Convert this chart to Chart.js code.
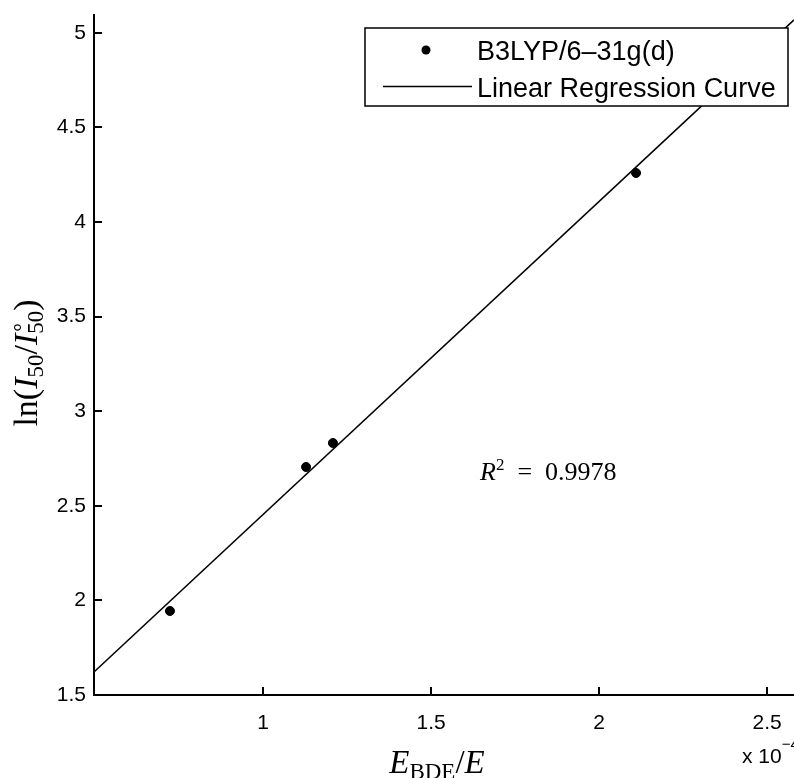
<!DOCTYPE html>
<html>
<head>
<meta charset="utf-8">
<script src="https://cdn.jsdelivr.net/npm/chart.js@4"></script>
<style>
html, body { margin: 0; padding: 0; background: #fff; }
#wrap { width: 794px; height: 778px; }
</style>
</head>
<body>
<div id="wrap"><canvas id="fitChart" width="794" height="778"></canvas></div>
<script>
// values in units of 1e-4 on x, as shown on the axis
const xValues = [0.723, 1.128, 1.208, 2.110];
const yValues = [1.944, 2.705, 2.832, 4.259];
const fitX = [0.497, 2.58];
const fitY = [1.622, 5.068];
const xTicks = [1, 1.5, 2, 2.5];
const yTicks = [1.5, 2, 2.5, 3, 3.5, 4, 4.5, 5];
const seriesLabels = ['B3LYP/6\u201331g(d)', 'Linear Regression Curve'];
const r2Text = '0.9978';

const SANS = '"Liberation Sans", Arial, sans-serif';
const SERIF = '"Liberation Serif", "Times New Roman", serif';

// draws a list of text pieces; stack:true puts a piece at the same x as the previous one
function drawRuns(ctx, runs, x, y, align) {
    let w = 0, cur = 0, lastStart = 0;
    const pos = [];
    runs.forEach(r => {
        ctx.font = r.font;
        const rw = ctx.measureText(r.t).width;
        const start = r.stack ? lastStart : cur;
        pos.push(start);
        lastStart = start;
        cur = Math.max(cur, start + rw);
        w = cur;
    });
    const x0 = align === 'center' ? x - w / 2 : x;
    runs.forEach((r, i) => {
        ctx.font = r.font;
        ctx.fillText(r.t, x0 + pos[i], y + (r.dy || 0));
    });
}

const extras = {
    id: 'extras',
    afterDraw(chart) {
        const ctx = chart.ctx;
        const xs = chart.scales.x, ys = chart.scales.y;
        const area = chart.chartArea;
        ctx.save();

        // inward tick marks (filled rectangles)
        ctx.fillStyle = '#000';
        xTicks.forEach(v => {
            const px = Math.round(xs.getPixelForValue(v));
            ctx.fillRect(px - 1, area.bottom - 8, 2, 8);
        });
        yTicks.forEach(v => {
            const py = Math.round(ys.getPixelForValue(v));
            ctx.fillRect(area.left, py - 1, 8, 2);
        });

        // legend box
        const bx = 365, by = 28, bw = 423, bh = 78;
        ctx.strokeStyle = '#000';
        ctx.fillStyle = '#fff';
        ctx.fillRect(bx, by, bw, bh);
        ctx.lineWidth = 1.5;
        ctx.strokeRect(bx, by, bw, bh);
        ctx.fillStyle = '#000';
        ctx.beginPath();
        ctx.arc(426, 50, 4.5, 0, Math.PI * 2);
        ctx.fill();
        ctx.beginPath();
        ctx.moveTo(383, 86.5);
        ctx.lineTo(472, 86.5);
        ctx.stroke();
        ctx.font = '27px ' + SANS;
        ctx.textBaseline = 'alphabetic';
        ctx.textAlign = 'left';
        ctx.fillText(chart.data.datasets[0].label, 477, 60);
        ctx.fillText(chart.data.datasets[1].label, 477, 97);

        // R^2 annotation
        drawRuns(ctx, [
            { t: 'R', font: 'italic 26px ' + SERIF },
            { t: '2', font: '17px ' + SERIF, dy: -10 },
            { t: '\u2002=\u2002', font: '26px ' + SERIF },
            { t: r2Text, font: '26px ' + SERIF }
        ], 480, 480, 'left');

        // x axis title
        drawRuns(ctx, [
            { t: 'E', font: 'italic 33px ' + SERIF },
            { t: 'BDE', font: '23px ' + SERIF, dy: 6 },
            { t: '/', font: '33px ' + SERIF },
            { t: 'E', font: 'italic 33px ' + SERIF }
        ], 437, 773, 'center');

        // exponent note
        drawRuns(ctx, [
            { t: 'x 10', font: '21px ' + SANS },
            { t: '\u22124', font: '15px ' + SANS, dy: -14 }
        ], 742, 763, 'left');

        // y axis title
        ctx.translate(37, 363);
        ctx.rotate(-Math.PI / 2);
        drawRuns(ctx, [
            { t: 'ln(', font: '34px ' + SERIF },
            { t: 'I', font: 'italic 34px ' + SERIF },
            { t: '50', font: '23px ' + SERIF, dy: 6 },
            { t: '/', font: '34px ' + SERIF },
            { t: 'I', font: 'italic 34px ' + SERIF },
            { t: '\u2218', font: '21px ' + SERIF, dy: -14 },
            { t: '50', font: '23px ' + SERIF, dy: 6, stack: true },
            { t: ')', font: '34px ' + SERIF }
        ], 0, 0, 'center');
        ctx.restore();
    }
};

const ctx = document.getElementById('fitChart').getContext('2d');
const fitChart = new Chart(ctx, {
    type: 'scatter',
    data: {
        datasets: [{
            label: seriesLabels[0],
            data: xValues.map((x, i) => ({ x: x, y: yValues[i] })),
            backgroundColor: '#000',
            borderColor: '#000',
            pointRadius: 4.5,
            pointHoverRadius: 4.5,
            showLine: false
        }, {
            label: seriesLabels[1],
            data: fitX.map((x, i) => ({ x: x, y: fitY[i] })),
            borderColor: '#000',
            borderWidth: 1.5,
            pointRadius: 0,
            showLine: true,
            fill: false
        }]
    },
    options: {
        responsive: false,
        animation: false,
        devicePixelRatio: 1,
        layout: { autoPadding: false, padding: { top: 15, right: 0, left: 0, bottom: 0 } },
        plugins: {
            legend: { display: false },
            tooltip: { enabled: false }
        },
        scales: {
            x: {
                type: 'linear',
                min: fitX[0],
                max: fitX[1],
                afterBuildTicks: s => { s.ticks = xTicks.map(v => ({ value: v })); },
                afterFit: s => { s.height = 83; s.paddingLeft = 0; s.paddingRight = 0; },
                ticks: {
                    color: '#000',
                    font: { family: SANS, size: 21 },
                    padding: 16,
                    maxRotation: 0,
                    autoSkip: false,
                    callback: v => String(v)
                },
                grid: { display: false, drawTicks: false },
                border: { display: true, color: '#000', width: 2 }
            },
            y: {
                type: 'linear',
                min: 1.5,
                max: 5.094,
                afterBuildTicks: s => { s.ticks = yTicks.map(v => ({ value: v })); },
                afterFit: s => { s.width = 94; s.paddingTop = 0; s.paddingBottom = 0; },
                ticks: {
                    color: '#000',
                    font: { family: SANS, size: 21 },
                    padding: 8,
                    autoSkip: false,
                    callback: v => String(v)
                },
                grid: { display: false, drawTicks: false },
                border: { display: true, color: '#000', width: 2 }
            }
        }
    },
    plugins: [extras]
});
</script>
</body>
</html>
